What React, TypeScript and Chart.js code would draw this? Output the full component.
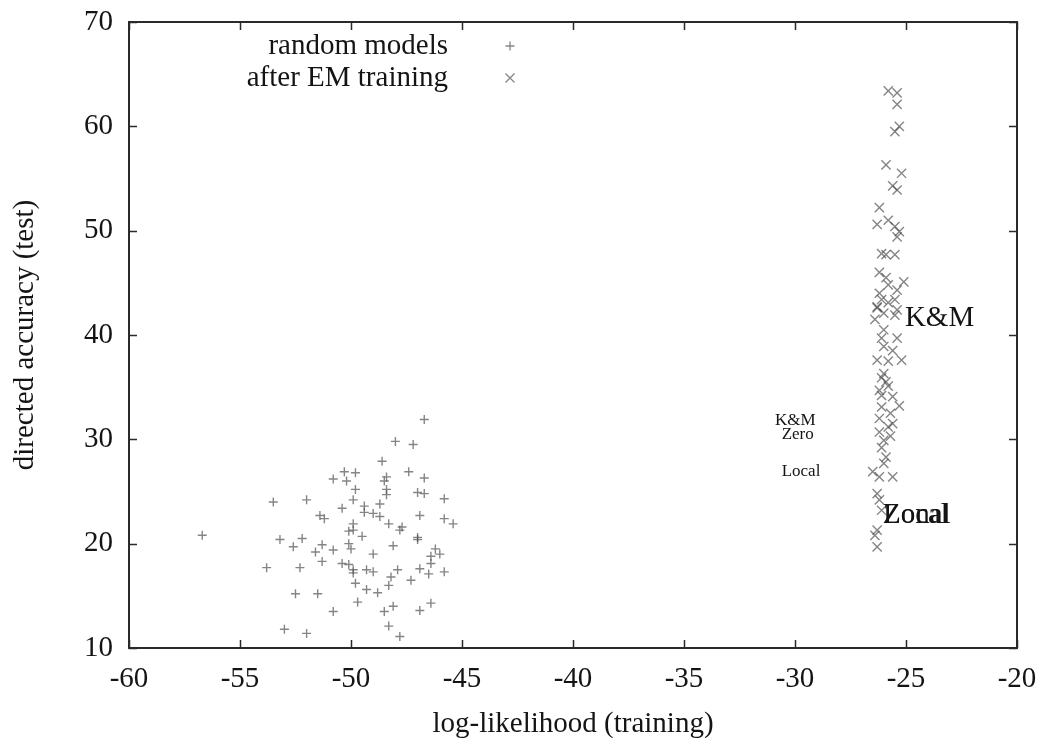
import React, { useEffect, useRef } from "react";
import { Chart, registerables } from "chart.js";

Chart.register(...registerables);

const xTickValues = [-60, -55, -50, -45, -40, -35, -30, -25, -20];
const yTickValues = [10, 20, 30, 40, 50, 60, 70];

const legendLabels = ["random models", "after EM training"];
const xTitle = "log-likelihood (training)";
const yTitle = "directed accuracy (test)";

const randomX = [
  -46.7, -48.0, -47.2, -48.6, -50.3, -49.8, -50.8, -50.2, -48.4, -48.5,
  -47.4, -46.7, -49.8, -48.4, -48.4, -47.0, -46.7, -45.8, -53.5, -52.0,
  -49.9, -50.4, -49.4, -48.7, -49.4, -49.0, -48.7, -51.4, -51.2, -46.9,
  -45.8, -45.4, -48.3, -47.7, -47.8, -49.9, -50.1, -49.9, -56.7, -49.5,
  -47.0, -47.0, -53.2, -52.2, -52.6, -51.3, -51.6, -50.8, -50.1, -50.0,
  -48.1, -49.0, -46.2, -46.0, -46.4, -51.3, -50.4, -50.1, -46.4, -53.8,
  -52.3, -49.9, -49.9, -49.3, -49.0, -47.9, -46.9, -46.5, -45.8, -47.3,
  -49.8, -48.2, -48.3, -49.3, -48.8, -52.5, -51.5, -49.7, -50.8, -48.5,
  -48.1, -46.9, -46.4, -53.0, -52.0, -48.3, -47.8,
];
const randomY = [
  31.9, 29.8, 29.5, 27.9, 26.9, 26.8, 26.2, 26.0, 26.4, 26.0,
  26.9, 26.3, 25.2, 25.2, 24.7, 24.9, 24.8, 24.3, 24.0, 24.2,
  24.2, 23.4, 23.6, 23.8, 23.0, 22.9, 22.6, 22.7, 22.4, 22.7,
  22.4, 21.9, 21.9, 21.6, 21.3, 21.9, 21.2, 21.3, 20.8, 20.7,
  20.6, 20.4, 20.4, 20.5, 19.7, 19.9, 19.2, 19.4, 20.0, 19.5,
  19.8, 19.0, 19.5, 19.0, 18.8, 18.3, 18.1, 18.0, 18.1, 17.7,
  17.7, 17.5, 17.2, 17.5, 17.3, 17.5, 17.6, 17.1, 17.3, 16.5,
  16.2, 16.8, 16.0, 15.6, 15.3, 15.2, 15.2, 14.4, 13.5, 13.5,
  14.0, 13.6, 14.3, 11.8, 11.4, 12.1, 11.1,
];

const emX = [
  -25.8, -25.4, -25.4, -25.3, -25.5, -25.9, -25.2, -25.6, -25.4, -26.2,
  -26.3, -25.8, -25.5, -25.3, -25.4, -26.1, -25.9, -25.5, -26.2, -25.1,
  -25.8, -25.4, -26.2, -26.1, -26.3, -26.0, -25.5, -25.4, -26.3, -25.8,
  -26.4, -25.5, -26.1, -25.4, -26.3, -25.8, -25.2, -26.1, -25.8, -26.2,
  -25.6, -26.1, -25.3, -25.8, -25.6, -26.2, -26.0, -26.1, -25.9, -26.0,
  -26.5, -26.2, -25.6, -26.3, -26.2, -26.3, -26.4, -26.3, -26.0, -25.6,
  -26.0, -25.7, -26.2, -25.9, -26.1, -25.9, -26.1, -25.7, -26.0,
];
const emY = [
  63.4, 63.2, 62.1, 60.0, 59.5, 56.3, 55.5, 54.3, 53.9, 52.2,
  50.6, 51.0, 50.4, 49.9, 49.4, 47.8, 47.7, 47.7, 46.0, 45.1,
  44.8, 44.3, 44.0, 43.4, 42.6, 42.1, 43.4, 42.4, 42.7, 43.1,
  41.5, 41.9, 39.7, 39.7, 37.6, 37.5, 37.6, 35.9, 35.1, 34.7,
  34.1, 33.1, 33.2, 31.2, 31.5, 30.7, 29.9, 29.2, 28.3, 27.7,
  26.9, 26.4, 26.4, 24.8, 24.2, 21.3, 20.8, 19.7, 40.5, 38.5,
  36.3, 32.5, 32.0, 45.5, 23.2, 35.5, 34.2, 30.3, 38.9,
];

// text annotations placed at data coordinates (left edge, vertical centre)
const bigLabelTexts = ["K&M", "Zonal", "Local"];
const bigLabelX = [-25.05, -26.04, -26.04];
const bigLabelY = [41.6, 22.75, 22.75];
const smallLabelTexts = ["K&M", "Zero", "Local"];
const smallLabelX = [-30.9, -30.6, -30.6];
const smallLabelY = [31.85, 30.45, 26.95];

const SERIF = '"Liberation Serif", "Times New Roman", serif';
const TEXT = "#141414";
const MARK = "rgba(75,75,75,0.68)";

const overlayPlugin = {
  id: "gnuplotOverlay",
  afterDraw(chart: any) {
    const { ctx, chartArea } = chart;
    const xs = chart.scales.x;
    const ys = chart.scales.y;
    const { left, right, top, bottom } = chartArea;
    ctx.save();
    // frame
    ctx.strokeStyle = "#2a2a2a";
    ctx.lineWidth = 2;
    ctx.strokeRect(left, top, right - left, bottom - top);
    // inside ticks (mirrored)
    ctx.lineWidth = 1.5;
    const tl = 8;
    xTickValues.forEach((v) => {
      const px = Math.round(xs.getPixelForValue(v)) + 0.5;
      ctx.beginPath();
      ctx.moveTo(px, bottom);
      ctx.lineTo(px, bottom - tl);
      ctx.moveTo(px, top);
      ctx.lineTo(px, top + tl);
      ctx.stroke();
    });
    yTickValues.forEach((v) => {
      const py = Math.round(ys.getPixelForValue(v)) + 0.5;
      ctx.beginPath();
      ctx.moveTo(left, py);
      ctx.lineTo(left + tl, py);
      ctx.moveTo(right, py);
      ctx.lineTo(right - tl, py);
      ctx.stroke();
    });
    // annotations
    ctx.fillStyle = TEXT;
    ctx.textAlign = "left";
    ctx.textBaseline = "middle";
    ctx.font = `29px ${SERIF}`;
    bigLabelTexts.forEach((t, i) => {
      ctx.fillText(t, xs.getPixelForValue(bigLabelX[i]), ys.getPixelForValue(bigLabelY[i]));
    });
    ctx.font = `17px ${SERIF}`;
    smallLabelTexts.forEach((t, i) => {
      ctx.fillText(t, xs.getPixelForValue(smallLabelX[i]), ys.getPixelForValue(smallLabelY[i]));
    });
    // legend (gnuplot style: text right aligned, sample to the right)
    ctx.font = `29px ${SERIF}`;
    ctx.textAlign = "right";
    const legTextX = left + 319;
    const legMarkX = left + 381;
    const legY0 = top + 24;
    const legDy = 32;
    legendLabels.forEach((t, i) => {
      const y = legY0 + i * legDy;
      ctx.fillStyle = TEXT;
      ctx.fillText(t, legTextX, y);
      ctx.strokeStyle = MARK;
      ctx.lineWidth = 1.3;
      ctx.beginPath();
      if (i === 0) {
        ctx.moveTo(legMarkX - 4.5, y);
        ctx.lineTo(legMarkX + 4.5, y);
        ctx.moveTo(legMarkX, y - 4.5);
        ctx.lineTo(legMarkX, y + 4.5);
      } else {
        ctx.moveTo(legMarkX - 4.5, y - 4.5);
        ctx.lineTo(legMarkX + 4.5, y + 4.5);
        ctx.moveTo(legMarkX - 4.5, y + 4.5);
        ctx.lineTo(legMarkX + 4.5, y - 4.5);
      }
      ctx.stroke();
    });
    ctx.restore();
  },
};

export default function App() {
  const canvasRef = useRef<HTMLCanvasElement | null>(null);

  useEffect(() => {
    const canvas = canvasRef.current;
    if (!canvas) return;
    const chart = new Chart(canvas, {
      type: "scatter",
      data: {
        datasets: [
          {
            label: legendLabels[0],
            data: randomX.map((x, i) => ({ x, y: randomY[i] })),
            pointStyle: "cross",
            pointRadius: 4.5,
            pointBorderWidth: 1.4,
            borderColor: MARK,
            backgroundColor: MARK,
          },
          {
            label: legendLabels[1],
            data: emX.map((x, i) => ({ x, y: emY[i] })),
            pointStyle: "crossRot",
            pointRadius: 6.5,
            pointBorderWidth: 1.4,
            borderColor: MARK,
            backgroundColor: MARK,
          },
        ],
      },
      options: {
        responsive: false,
        animation: false,
        events: [],
        layout: { padding: { top: 22, right: 22, left: 0, bottom: 0 } },
        plugins: { legend: { display: false }, tooltip: { enabled: false } },
        scales: {
          x: {
            type: "linear",
            min: -60,
            max: -20,
            afterBuildTicks: (s: any) => {
              s.ticks = xTickValues.map((v) => ({ value: v }));
            },
            afterFit: (s: any) => {
              s.height = 90;
              s.paddingLeft = 0;
              s.paddingRight = 0;
            },
            grid: { display: false, drawTicks: false },
            border: { display: false },
            ticks: {
              autoSkip: false,
              maxRotation: 0,
              padding: 14,
              color: TEXT,
              font: { family: SERIF, size: 29 },
            },
            title: {
              display: true,
              text: xTitle,
              color: TEXT,
              font: { family: SERIF, size: 29 },
              padding: { top: 0, bottom: -4 },
            },
          },
          y: {
            type: "linear",
            min: 10,
            max: 70,
            afterBuildTicks: (s: any) => {
              s.ticks = yTickValues.map((v) => ({ value: v }));
            },
            afterFit: (s: any) => {
              s.width = 129;
              s.paddingTop = 0;
              s.paddingBottom = 0;
            },
            grid: { display: false, drawTicks: false },
            border: { display: false },
            ticks: {
              autoSkip: false,
              padding: 16,
              color: TEXT,
              font: { family: SERIF, size: 29 },
            },
            title: {
              display: true,
              text: yTitle,
              color: TEXT,
              font: { family: SERIF, size: 29 },
              padding: { top: 8, bottom: 0 },
            },
          },
        },
      },
      plugins: [overlayPlugin],
    });
    return () => chart.destroy();
  }, []);

  return (
    <div style={{ position: "fixed", left: 0, top: 0, width: 1039, height: 738, background: "#fff" }}>
      <canvas ref={canvasRef} width={1039} height={738} style={{ display: "block" }} />
    </div>
  );
}
